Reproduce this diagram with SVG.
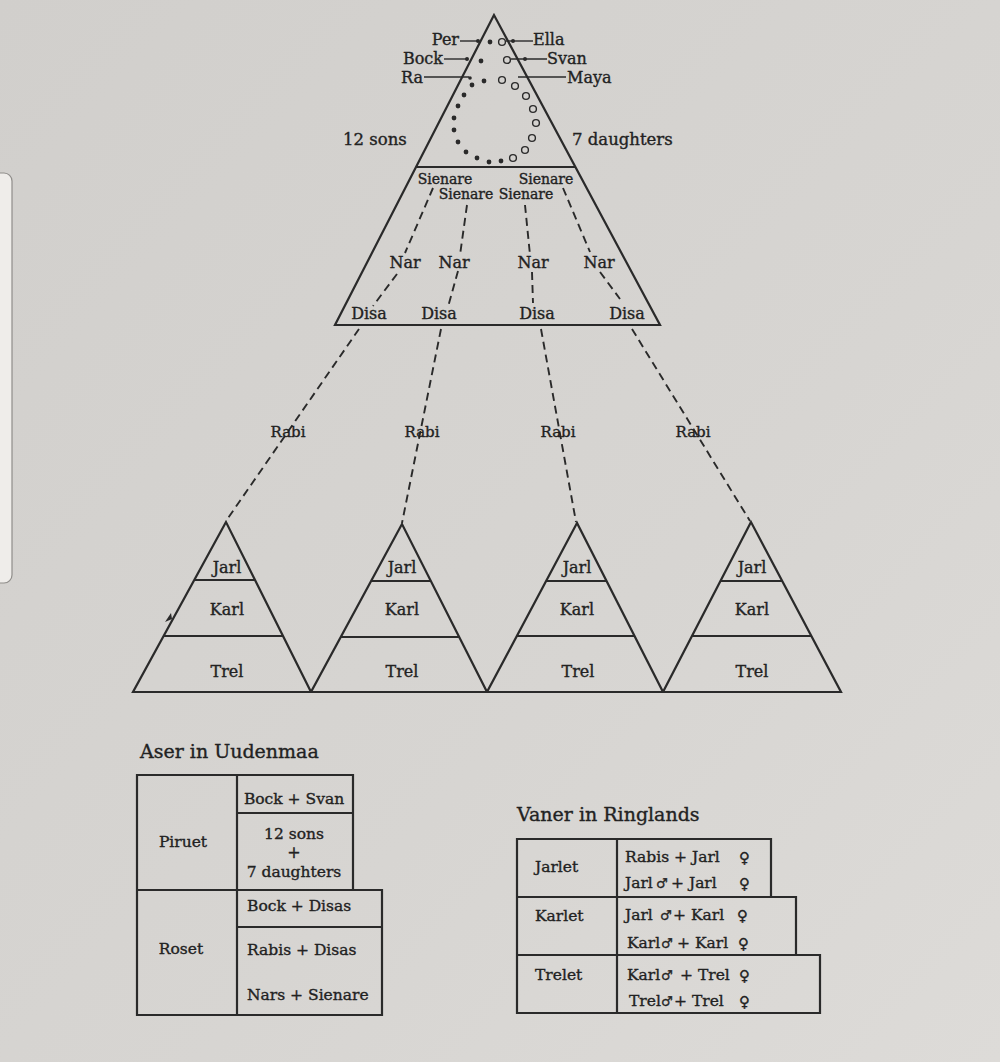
<svg xmlns="http://www.w3.org/2000/svg" width="1000" height="1062" viewBox="0 0 1000 1062">
<defs>
<linearGradient id="paper" x1="0" y1="0" x2="1" y2="1">
<stop offset="0" stop-color="#d1cfcc"/>
<stop offset="0.6" stop-color="#d7d5d2"/>
<stop offset="1" stop-color="#dddbd8"/>
</linearGradient>
<style>
.ln{stroke:#2a2a2a;stroke-width:2.2;fill:none;stroke-linejoin:miter}
.thin{stroke:#2a2a2a;stroke-width:1.4;fill:none}
.dash{stroke:#2a2a2a;stroke-width:1.9;fill:none;stroke-dasharray:8 5}
.t{font-family:"DejaVu Serif","Liberation Serif","DejaVu Sans",serif;fill:#222;font-size:16px;stroke:#222;stroke-width:0.35px}
.c{text-anchor:middle}
.e{text-anchor:end}
.s14{font-size:14px}
.s15{font-size:15px}
.s155{font-size:15.5px}
.s17{font-size:16.5px}
.s19{font-size:19px}
.sym{font-size:13px}
.fem{font-size:15px}
.dot{fill:#2a2a2a}
.oc{fill:none;stroke:#2a2a2a;stroke-width:1.4}
</style>
</defs>
<rect x="0" y="0" width="1000" height="1062" fill="url(#paper)"/>
<rect x="-10" y="173" width="22" height="410" rx="8" fill="#efedea" stroke="#8f8d8a" stroke-width="1.2"/>

<g id="main-pyramid">
<polygon class="ln" points="494,15 335,325 660,325"/>
<line class="ln" x1="416" y1="167" x2="575" y2="167"/>
<text class="t s17" x="343" y="145">12 sons</text>
<text class="t s17" x="572" y="145">7 daughters</text>
</g>

<g id="founders">
<text class="t e" x="459" y="45">Per</text>
<text class="t e" x="443" y="64">Bock</text>
<text class="t e" x="423" y="83">Ra</text>
<text class="t" x="533" y="45">Ella</text>
<text class="t" x="547" y="64">Svan</text>
<text class="t" x="567" y="83">Maya</text>
<line class="thin" x1="460" y1="41" x2="478" y2="41"/>
<line class="thin" x1="444" y1="59" x2="467" y2="59"/>
<line class="thin" x1="424" y1="77" x2="469" y2="77"/>
<line class="thin" x1="506" y1="41" x2="533" y2="41"/>
<line class="thin" x1="511" y1="59" x2="547" y2="59"/>
<line class="thin" x1="518" y1="77" x2="566" y2="77"/>
<circle class="dot" cx="478" cy="41" r="2"/>
<circle class="dot" cx="467" cy="59" r="2"/>
<circle class="dot" cx="470" cy="78" r="1.8"/>
<circle class="dot" cx="513" cy="41" r="2"/>
<circle class="dot" cx="525" cy="59" r="2"/>
<circle class="dot" cx="490" cy="42" r="2.4"/>
<circle class="dot" cx="481" cy="61" r="2.4"/>
<circle class="dot" cx="484" cy="81" r="2.4"/>
<circle class="dot" cx="472" cy="85" r="2.4"/>
<circle class="dot" cx="464" cy="95" r="2.4"/>
<circle class="dot" cx="458" cy="106" r="2.4"/>
<circle class="dot" cx="454" cy="118" r="2.4"/>
<circle class="dot" cx="454" cy="130" r="2.4"/>
<circle class="dot" cx="458" cy="142" r="2.4"/>
<circle class="dot" cx="466" cy="152" r="2.4"/>
<circle class="dot" cx="477" cy="158" r="2.4"/>
<circle class="dot" cx="489" cy="162" r="2.4"/>
<circle class="dot" cx="501" cy="161" r="2.4"/>
<circle class="oc" cx="502" cy="42" r="3.4"/>
<circle class="oc" cx="507" cy="60" r="3.4"/>
<circle class="oc" cx="502" cy="80" r="3.4"/>
<circle class="oc" cx="515" cy="86" r="3.4"/>
<circle class="oc" cx="526" cy="96" r="3.4"/>
<circle class="oc" cx="533" cy="109" r="3.4"/>
<circle class="oc" cx="536" cy="123" r="3.4"/>
<circle class="oc" cx="532" cy="138" r="3.4"/>
<circle class="oc" cx="525" cy="150" r="3.4"/>
<circle class="oc" cx="513" cy="158" r="3.4"/>
</g>

<g id="lineage-labels">
<text class="t s14 c" x="445" y="184">Sienare</text>
<text class="t s14 c" x="546" y="184">Sienare</text>
<text class="t s14 c" x="466" y="199">Sienare</text>
<text class="t s14 c" x="526" y="199">Sienare</text>
<text class="t c" x="405" y="268">Nar</text>
<text class="t c" x="454" y="268">Nar</text>
<text class="t c" x="533" y="268">Nar</text>
<text class="t c" x="599" y="268">Nar</text>
<text class="t c" x="369" y="319">Disa</text>
<text class="t c" x="439" y="319">Disa</text>
<text class="t c" x="537" y="319">Disa</text>
<text class="t c" x="627" y="319">Disa</text>
</g>

<g id="connectors">
<polyline class="dash" points="433,188 405,253"/>
<polyline class="dash" points="397,274 373,306"/>
<polyline class="dash" points="467,205 460,255"/>
<polyline class="dash" points="458,271 448,307"/>
<polyline class="dash" points="525,205 530,255"/>
<polyline class="dash" points="532,272 533,303"/>
<polyline class="dash" points="563,188 590,252"/>
<polyline class="dash" points="600,272 620,299"/>
<line class="dash" x1="359" y1="329" x2="226" y2="521"/>
<line class="dash" x1="441" y1="329" x2="402" y2="523"/>
<line class="dash" x1="541" y1="329" x2="576" y2="522"/>
<line class="dash" x1="632" y1="329" x2="750" y2="521"/>
<text class="t s15 c" x="288" y="437">Rabi</text>
<text class="t s15 c" x="422" y="437">Rabi</text>
<text class="t s15 c" x="558" y="437">Rabi</text>
<text class="t s15 c" x="693" y="437">Rabi</text>
</g>

<g id="pyramid-1">
<polygon class="ln" points="226,522 133,692 311,692"/>
<line class="ln" x1="194.3" y1="580" x2="255" y2="580"/>
<line class="ln" x1="163.6" y1="636" x2="283" y2="636"/>
<text class="t c" x="227" y="573">Jarl</text>
<text class="t c" x="227" y="615">Karl</text>
<text class="t c" x="227" y="677">Trel</text>
<path d="M171,613 L165,622 L172,619 Z" fill="#2a2a2a"/>
</g>
<g id="pyramid-2">
<polygon class="ln" points="402,524 311,692 487,692"/>
<line class="ln" x1="371.1" y1="581" x2="430.8" y2="581"/>
<line class="ln" x1="340.8" y1="637" x2="459.2" y2="637"/>
<text class="t c" x="402" y="573">Jarl</text>
<text class="t c" x="402" y="615">Karl</text>
<text class="t c" x="402" y="677">Trel</text>
</g>
<g id="pyramid-3">
<polygon class="ln" points="577,523 487,692 663,692"/>
<line class="ln" x1="546.1" y1="581" x2="606.5" y2="581"/>
<line class="ln" x1="516.8" y1="636" x2="634.5" y2="636"/>
<text class="t c" x="577" y="573">Jarl</text>
<text class="t c" x="577" y="615">Karl</text>
<text class="t c" x="578" y="677">Trel</text>
</g>
<g id="pyramid-4">
<polygon class="ln" points="751,522 663,692 841,692"/>
<line class="ln" x1="720.5" y1="581" x2="782.2" y2="581"/>
<line class="ln" x1="692" y1="636" x2="811.4" y2="636"/>
<text class="t c" x="752" y="573">Jarl</text>
<text class="t c" x="752" y="615">Karl</text>
<text class="t c" x="752" y="677">Trel</text>
</g>

<g id="table-aser">
<text class="t s19" x="140" y="758">Aser in Uudenmaa</text>
<polyline class="ln" points="353,890 353,775 137,775 137,1015 382,1015 382,890 137,890"/>
<line class="ln" x1="237" y1="775" x2="237" y2="1015"/>
<line class="ln" x1="237" y1="813" x2="353" y2="813"/>
<line class="ln" x1="237" y1="927" x2="382" y2="927"/>
<text class="t s155 c" x="183" y="847">Piruet</text>
<text class="t s155 c" x="181" y="954">Roset</text>
<text class="t s155 c" x="294" y="804">Bock + Svan</text>
<text class="t s155 c" x="294" y="839">12 sons</text>
<text class="t c" x="294" y="858" font-size="12">+</text>
<text class="t s155 c" x="294" y="877">7 daughters</text>
<text class="t s155" x="247" y="911">Bock + Disas</text>
<text class="t s155" x="247" y="955">Rabis + Disas</text>
<text class="t s155" x="247" y="1000">Nars + Sienare</text>
</g>

<g id="table-vaner">
<text class="t s19" x="517" y="821">Vaner in Ringlands</text>
<polyline class="ln" points="771,897 771,839 517,839 517,1013 820,1013 820,955 517,955"/>
<polyline class="ln" points="517,897 796,897 796,955"/>
<line class="ln" x1="617" y1="839" x2="617" y2="1013"/>
<text class="t s155" x="535" y="872">Jarlet</text>
<text class="t s155" x="535" y="921">Karlet</text>
<text class="t s155" x="535" y="980">Trelet</text>
<text class="t s155" x="625" y="862">Rabis + Jarl</text>
<text class="t fem" x="739" y="863">♀</text>
<text class="t s155" x="625" y="888">Jarl</text>
<text class="t sym" x="656" y="888">♂</text>
<text class="t s155" x="671" y="888">+ Jarl</text>
<text class="t fem" x="739" y="889">♀</text>
<text class="t s155" x="625" y="920">Jarl</text>
<text class="t sym" x="660" y="920">♂</text>
<text class="t s155" x="673" y="920">+ Karl</text>
<text class="t fem" x="737" y="921">♀</text>
<text class="t s155" x="627" y="948">Karl</text>
<text class="t sym" x="661" y="948">♂</text>
<text class="t s155" x="677" y="948">+ Karl</text>
<text class="t fem" x="738" y="949">♀</text>
<text class="t s155" x="627" y="980">Karl</text>
<text class="t sym" x="661" y="980">♂</text>
<text class="t s155" x="680" y="980">+ Trel</text>
<text class="t fem" x="739" y="981">♀</text>
<text class="t s155" x="629" y="1006">Trel</text>
<text class="t sym" x="661" y="1006">♂</text>
<text class="t s155" x="674" y="1006">+ Trel</text>
<text class="t fem" x="739" y="1007">♀</text>
</g>
</svg>
